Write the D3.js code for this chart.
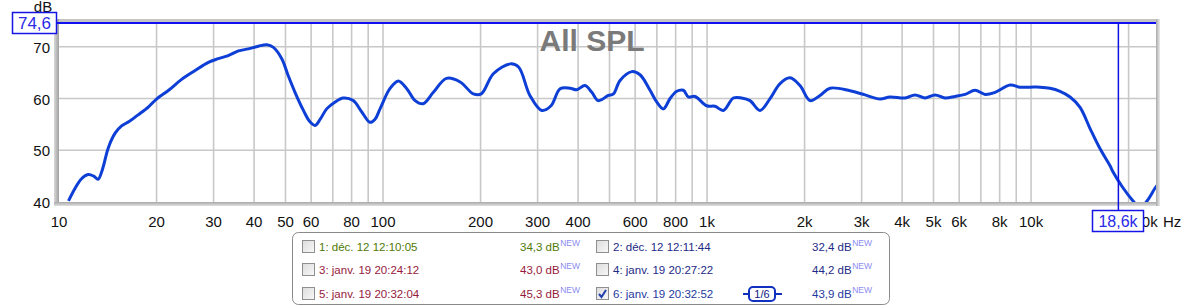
<!DOCTYPE html>
<html><head><meta charset="utf-8">
<script src="https://cdn.jsdelivr.net/npm/d3@7"></script>
<style>body{margin:0;background:#fff;}svg{display:block;font-family:"Liberation Sans",Arial,sans-serif;}</style>
</head><body><svg id="c" width="1184" height="307"></svg>
<script>
const freqs = [10.7,11.2,11.7,12.3,12.8,13.2,13.6,14.2,14.9,15.6,16.5,17.5,18.9,20,21.8,23.9,26.3,28.9,31,33.3,35.8,38.4,41.2,43.8,45.9,48.7,51,53.5,56.8,59.5,61.7,64,67,71,75.4,80.9,86,91.2,94.5,97.9,105,111.5,118.4,125.6,133,143,157,173,190,201,219,247,262,284,309,330,352,378,396,420,441,462,496,514,539,586,621,667,700,733,769,806,845,876,918,998,1058,1123,1206,1279,1357,1457,1565,1680,1804,1936,2079,2233,2396,2762,3074,3420,3671,4085,4385,4709,5055,5428,5828,6257,6718,7211,7743,8613,9247,9929,10661,11445,12290,13196,14166,15212,16333,17530,17910,19095,20643,21700,22803,24140,24486];
const spl = [40.2,42.6,44.4,45.3,45.0,44.4,46.2,50.5,53.3,54.7,55.6,56.8,58.4,59.9,61.6,63.7,65.4,67.0,67.7,68.3,69.2,69.6,70.1,70.4,69.9,67.7,64.4,61.2,57.7,55.5,54.8,56.0,58.0,59.3,60.1,59.6,57.4,55.4,56.0,58.0,61.9,63.4,61.9,59.6,59.0,61.2,63.9,63.2,60.9,60.9,64.8,66.7,66.1,60.6,57.7,58.6,61.9,62.0,61.7,62.5,61.2,59.6,60.6,60.9,63.5,65.2,64.6,61.6,59.3,58.0,60.0,61.4,61.6,60.3,60.4,58.6,58.5,57.7,60.1,60.1,59.6,57.7,60.0,62.9,64.0,62.5,59.6,60.6,62.0,61.5,60.7,59.9,60.3,60.1,60.7,60.1,60.7,60.1,60.4,60.8,61.6,60.8,61.2,62.6,62.2,62.2,62.2,62.0,61.4,60.3,58.3,54.2,50.3,47.0,45.8,43.0,40.2,38.8,40.2,42.7,43.2];
const xTickVals = [10,20,30,40,50,60,80,100,200,300,400,600,800,1000,2000,3000,4000,5000,6000,8000,10000,20000];
const xTickLabels = ["10","20","30","40","50","60","80","100","200","300","400","600","800","1k","2k","3k","4k","5k","6k","8k","10k","20k"];
const xGridVals = [20,30,40,50,60,70,80,90,100,200,300,400,500,600,700,800,900,1000,2000,3000,4000,5000,6000,7000,8000,9000,10000,20000];
const yTickVals = [40,50,60,70];
const cursorDb = 74.6, cursorHz = 18600;
const cursorDbLabel = "74,6", cursorHzLabel = "18,6k";
const title = "All SPL";
const legendCol1 = ["1: déc. 12 12:10:05","3: janv. 19 20:24:12","5: janv. 19 20:32:04"];
const legendVal1 = ["34,3 dB","43,0 dB","45,3 dB"];
const legendCol2 = ["2: déc. 12 12:11:44","4: janv. 19 20:27:22","6: janv. 19 20:32:52"];
const legendVal2 = ["32,4 dB","44,2 dB","43,9 dB"];
const legendColor1 = ["#4f7a06","#961a3c","#961a3c"];
const legendColor2 = ["#1e2a86","#1e2a86","#1e3aa0"];
const checked2 = [false,false,true];

const svg = d3.select("#c");
const x = d3.scaleLog().domain([10,24300]).range([59,1156]);
const y = d3.scaleLinear().domain([40,74.6]).range([202,23]);

svg.append("rect").attr("x",59).attr("y",21).attr("width",1097).attr("height",181).attr("fill","#fff");
svg.append("g").selectAll("line").data(xGridVals).join("line")
  .attr("x1",d=>x(d)).attr("x2",d=>x(d)).attr("y1",21).attr("y2",202)
  .attr("stroke","#c8c8c8").attr("stroke-width",1.6);
svg.append("g").selectAll("line").data([50,60,70]).join("line")
  .attr("x1",59).attr("x2",1156).attr("y1",d=>y(d)).attr("y2",d=>y(d))
  .attr("stroke","#c8c8c8").attr("stroke-width",1.6);

const defs = svg.append("defs");
const gl = defs.append("linearGradient").attr("id","gl").attr("x1","0").attr("x2","1").attr("y1","0").attr("y2","0");
gl.append("stop").attr("offset","0").attr("stop-color","#d8d8d8");
gl.append("stop").attr("offset","1").attr("stop-color","#a0a0a0");
const gb = defs.append("linearGradient").attr("id","gb").attr("x1","0").attr("x2","0").attr("y1","0").attr("y2","1");
gb.append("stop").attr("offset","0").attr("stop-color","#a8a8a8");
gb.append("stop").attr("offset","1").attr("stop-color","#e0e0e0");
const gr = defs.append("linearGradient").attr("id","gr").attr("x1","0").attr("x2","1").attr("y1","0").attr("y2","0");
gr.append("stop").attr("offset","0").attr("stop-color","#a8a8a8");
gr.append("stop").attr("offset","1").attr("stop-color","#ececec");
svg.append("rect").attr("x",55).attr("y",19).attr("width",1102).attr("height",3).attr("fill","#c4c4c4");
svg.append("rect").attr("x",54).attr("y",19).attr("width",5).attr("height",187).attr("fill","url(#gl)");
svg.append("rect").attr("x",54).attr("y",202).attr("width",1106).attr("height",4).attr("fill","url(#gb)");
svg.append("rect").attr("x",1156).attr("y",19).attr("width",4).attr("height",187).attr("fill","url(#gr)");

svg.append("text").attr("x",592).attr("y",51).attr("text-anchor","middle")
  .attr("font-size",30).attr("font-weight","bold").attr("fill","#7a7a7a").text(title);

defs.append("clipPath").attr("id","clip").append("rect").attr("x",59).attr("y",21).attr("width",1097).attr("height",181);
const line = d3.line().x((d,i)=>x(freqs[i])).y(d=>y(d)).curve(d3.curveCatmullRom);
svg.append("path").attr("clip-path","url(#clip)").attr("d",line(spl))
  .attr("fill","none").attr("stroke","#0d3fd6").attr("stroke-width",3).attr("stroke-linejoin","round");

svg.append("line").attr("x1",57).attr("x2",1156).attr("y1",y(cursorDb)).attr("y2",y(cursorDb))
  .attr("stroke","#1010f0").attr("stroke-width",2);
svg.append("line").attr("x1",x(cursorHz)).attr("x2",x(cursorHz)).attr("y1",y(cursorDb)).attr("y2",211)
  .attr("stroke","#1010e0").attr("stroke-width",1.5);

svg.append("g").selectAll("text").data(yTickVals).join("text")
  .attr("x",50).attr("y",d=>y(d)+6).attr("text-anchor","end").attr("font-size",15).attr("fill","#111").text(d=>d);
svg.append("text").attr("x",43).attr("y",12).attr("text-anchor","middle").attr("font-size",15).attr("fill","#111").text("dB");

// x axis labels (the last one sits just right of the cursor box as in the original)
svg.append("g").selectAll("text").data(xTickVals).join("text")
  .attr("x",d=>d===20000 ? x(d)+17 : x(d)).attr("y",227).attr("text-anchor","middle").attr("font-size",15).attr("fill","#111")
  .text((d,i)=>xTickLabels[i]);
svg.append("text").attr("x",1163).attr("y",227).attr("font-size",15).attr("fill","#111").text("Hz");

svg.append("rect").attr("x",12.5).attr("y",12.5).attr("width",44).attr("height",21).attr("fill","#fff").attr("stroke","#1414e6").attr("stroke-width",1.5);
svg.append("text").attr("x",34.5).attr("y",29).attr("text-anchor","middle").attr("font-size",17).attr("fill","#2a2ae8").text(cursorDbLabel);
svg.append("rect").attr("x",1092.5).attr("y",210.5).attr("width",51).attr("height",21).attr("fill","#fff").attr("stroke","#1414e6").attr("stroke-width",1.5);
svg.append("text").attr("x",1118).attr("y",227).attr("text-anchor","middle").attr("font-size",16).attr("fill","#2a2ae8").text(cursorHzLabel);

svg.append("rect").attr("x",292.5).attr("y",232.5).attr("width",597).attr("height",72).attr("rx",6)
  .attr("fill","#fff").attr("stroke","#8a8a8a");
const rowY = [247,270,294];
const cbGrad = defs.append("linearGradient").attr("id","cb").attr("x1","0").attr("x2","1").attr("y1","0").attr("y2","1");
cbGrad.append("stop").attr("offset","0").attr("stop-color","#dcdcdc");
cbGrad.append("stop").attr("offset","1").attr("stop-color","#f8f8f8");
function checkbox(x0,yc,on){
  svg.append("rect").attr("x",x0+0.5).attr("y",yc-6.5).attr("width",12).attr("height",12).attr("fill","url(#cb)").attr("stroke","#8e8f8f");
  if(on){
    svg.append("path").attr("d",`M${x0+3},${yc} L${x0+5.5},${yc+3} L${x0+10},${yc-4}`).attr("fill","none").attr("stroke","#2040b0").attr("stroke-width",2);
  }
}
function entry(x0,yc,label,val,valX,col,on){
  checkbox(x0,yc,on);
  svg.append("text").attr("x",x0+17).attr("y",yc+4).attr("font-size",11.5).attr("fill",col).text(label);
  const t = svg.append("text").attr("x",valX).attr("y",yc+4).attr("font-size",11.5).attr("fill",col).text(val);
  const w = t.node().getComputedTextLength();
  svg.append("text").attr("x",valX+w+0.5).attr("y",yc-1).attr("font-size",8.5).attr("fill","#8c8cf0").text("NEW");
}
rowY.forEach((yc,i)=>{
  entry(302,yc,legendCol1[i],legendVal1[i],520,legendColor1[i],false);
  entry(596,yc,legendCol2[i],legendVal2[i],812,legendColor2[i],checked2[i]);
});
svg.append("line").attr("x1",743).attr("x2",782).attr("y1",rowY[2]).attr("y2",rowY[2]).attr("stroke","#1030c0").attr("stroke-width",2);
svg.append("rect").attr("x",749).attr("y",rowY[2]-7).attr("width",26).attr("height",14).attr("rx",4).attr("fill","#fff").attr("stroke","#1030c0").attr("stroke-width",2);
svg.append("text").attr("x",762).attr("y",rowY[2]+4).attr("text-anchor","middle").attr("font-size",11).attr("fill","#102080").text("1/6");
</script></body></html>
